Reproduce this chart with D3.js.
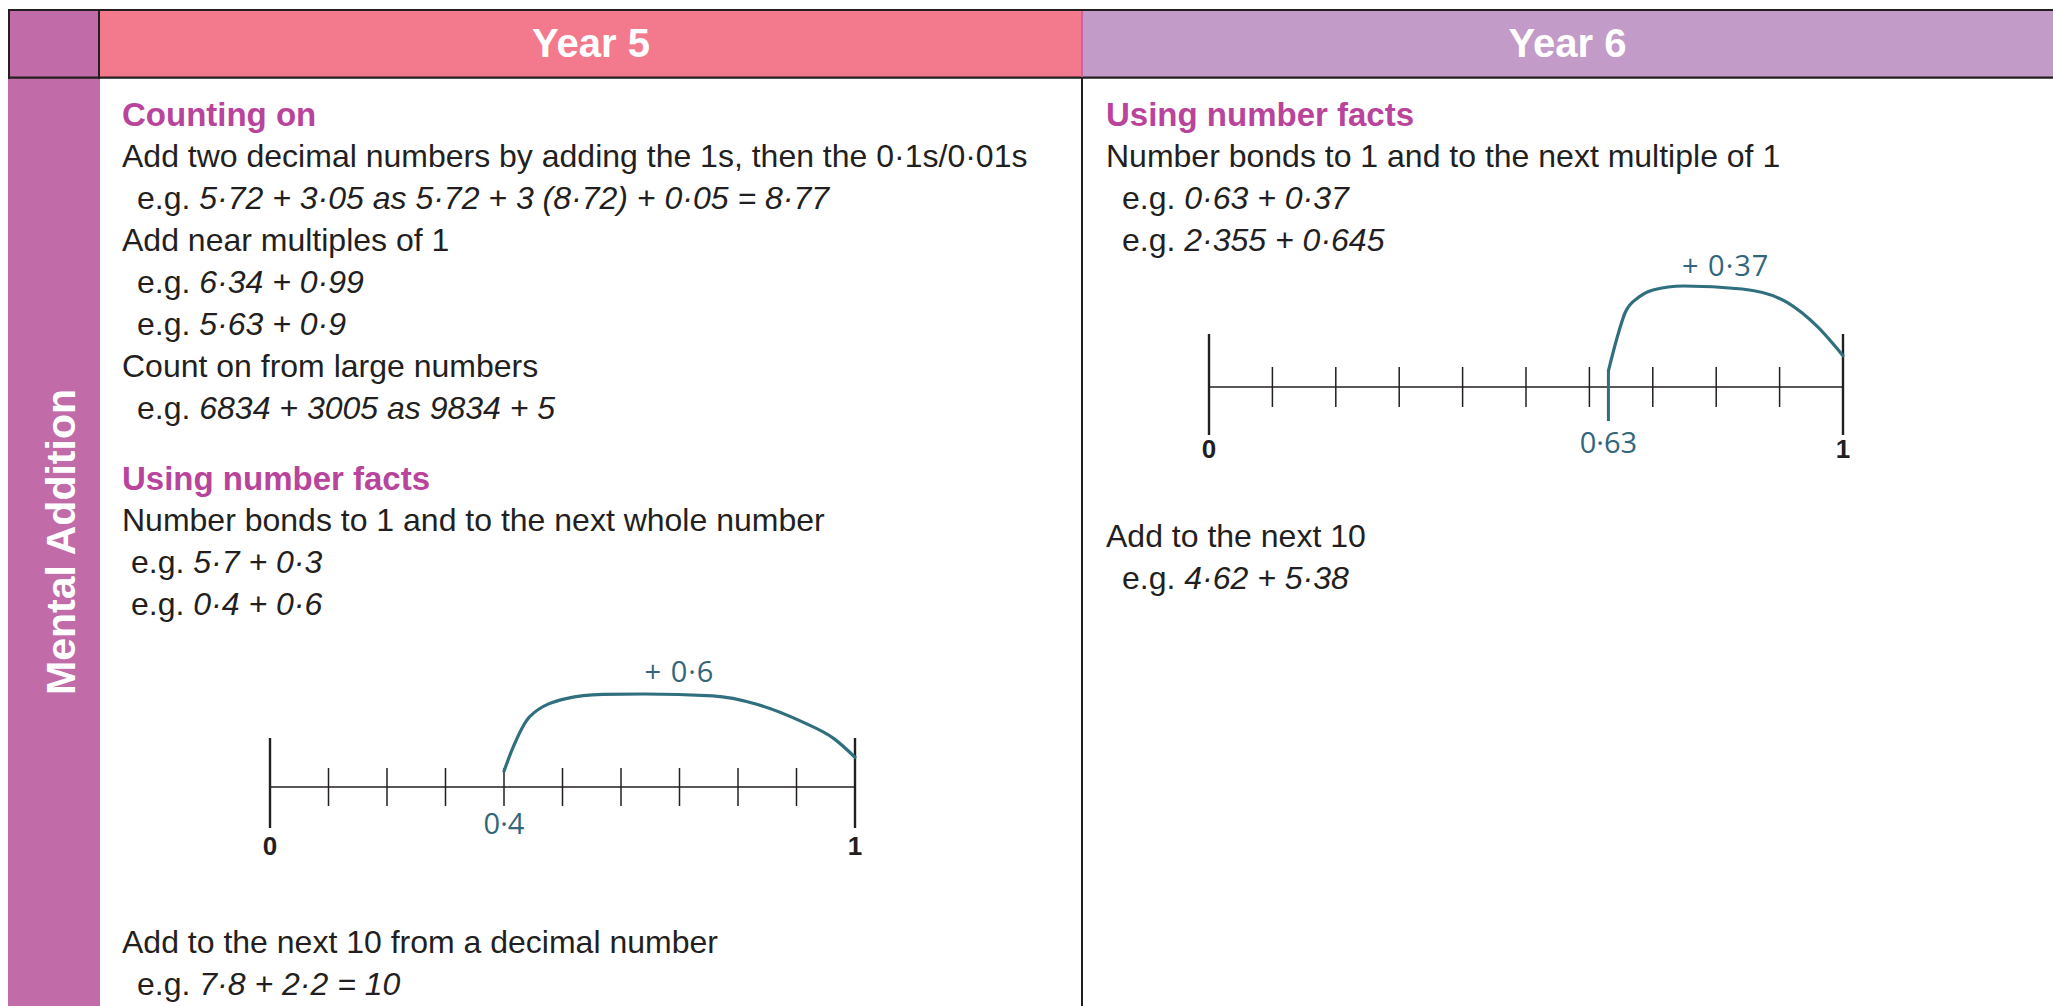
<!DOCTYPE html>
<html>
<head>
<meta charset="utf-8">
<script src="https://cdn.jsdelivr.net/npm/d3@7"></script>
<style>
  body { margin: 0; background: #fff; }
  svg { display: block; }
</style>
</head>
<body>
<svg id="sheet" width="2053" height="1006"></svg>
<script>
// content of the sheet
const columns = ['Year 5', 'Year 6']
const rowTitle = 'Mental Addition'

// h = heading, t = plain line, e = "e.g." line with italic sum, n = number line
const year5Items = [
  ['h', 'Counting on'],
  ['t', 'Add two decimal numbers by adding the 1s, then the 0·1s/0·01s'],
  ['e', '5·72 + 3·05 as 5·72 + 3 (8·72) + 0·05 = 8·77'],
  ['t', 'Add near multiples of 1'],
  ['e', '6·34 + 0·99'],
  ['e', '5·63 + 0·9'],
  ['t', 'Count on from large numbers'],
  ['e', '6834 + 3005 as 9834 + 5'],
  ['h', 'Using number facts'],
  ['t', 'Number bonds to 1 and to the next whole number'],
  ['e', '5·7 + 0·3'],
  ['e', '0·4 + 0·6'],
  ['n', 0],
  ['t', 'Add to the next 10 from a decimal number'],
  ['e', '7·8 + 2·2 = 10']
]

const year6Items = [
  ['h', 'Using number facts'],
  ['t', 'Number bonds to 1 and to the next multiple of 1'],
  ['e', '0·63 + 0·37'],
  ['e', '2·355 + 0·645'],
  ['n', 1],
  ['t', 'Add to the next 10'],
  ['e', '4·62 + 5·38']
]

// number lines: jump from -> to, labels, and the hand drawn arc (t along jump, relative height)
const lineEnds = ['0', '1']
const jumpFrom = [0.4, 0.63]
const jumpTo = [1, 1]
const fromLabels = ['0·4', '0·63']
const jumpLabels = ['+ 0·6', '+ 0·37']
const arcT = [
  [0, 0.024, 0.074, 0.177, 0.28, 0.40, 0.595, 0.72, 0.85, 0.94, 1],
  [0, 0.036, 0.072, 0.13, 0.19, 0.32, 0.57, 0.76, 0.89, 1]
]
const arcH = [
  [0.17, 0.41, 0.76, 0.95, 0.995, 1, 0.98, 0.89, 0.70, 0.52, 0.32],
  [0.16, 0.48, 0.74, 0.89, 0.96, 1, 0.97, 0.84, 0.60, 0.31]
]

// layout
const W = 2053, H = 1006
const topY = 10, headBottom = 78
const leftX = 8, colEdges = [100, 1082, W]
const headColors = ['#f27a8c', '#c39bc9']
const purple = '#c16ba8'
const ink = '#231f20'
const magenta = '#b8449b'
const teal = '#2f6f7e'
const tealText = '#33667a'
const sans = '"Liberation Sans", Arial, Helvetica, sans-serif'
const hand = '"Open Sans", "DejaVu Sans", sans-serif'

const colLayout = [
  { textX: 122, indents: [15, 9, 15], firstY: 114, lineGap: 42, headGap: 70,
    nl: { x0: 270, x1: 855, before: 183, after: 155, arc: 93, big: [49, 41], small: 19,
          fromDy: 37, endDy: 59, jumpDy: -115, markerDrop: 0 } },
  { textX: 1106, indents: [16, 16], firstY: 114, lineGap: 42, headGap: 70,
    nl: { x0: 1209, x1: 1843, before: 147, after: 149, arc: 101, big: [53, 48], small: 20,
          fromDy: 56, endDy: 62, jumpDy: -121, markerDrop: 34 } }
]

const svg = d3.select('#sheet')

// backgrounds
svg.append('rect').attr('x', leftX).attr('y', topY).attr('width', colEdges[0] - leftX)
  .attr('height', H - topY).attr('fill', purple)
columns.forEach((c, i) => {
  svg.append('rect').attr('x', colEdges[i]).attr('y', topY)
    .attr('width', colEdges[i + 1] - colEdges[i]).attr('height', headBottom - topY)
    .attr('fill', headColors[i])
  svg.append('text')
    .attr('x', (colEdges[i] + colEdges[i + 1]) / 2).attr('y', 57)
    .attr('text-anchor', 'middle')
    .attr('font-family', sans).attr('font-weight', 'bold').attr('font-size', 40)
    .attr('fill', '#fff')
    .text(c)
})

// grid lines
const rule = (x1, y1, x2, y2, w, col) => svg.append('line')
  .attr('x1', x1).attr('y1', y1).attr('x2', x2).attr('y2', y2)
  .attr('stroke', col || ink).attr('stroke-width', w)
rule(leftX, topY, W, topY, 2.2)
rule(leftX, headBottom - 0.3, W, headBottom - 0.3, 2.2)
rule(leftX + 1, topY, leftX + 1, headBottom + 1, 2)
rule(colEdges[0] - 1, topY, colEdges[0] - 1, headBottom + 1, 2)
rule(colEdges[1], topY + 1, colEdges[1], headBottom - 1, 2, '#c962a6')
rule(colEdges[1], headBottom, colEdges[1], H, 2)

// row title
svg.append('text')
  .attr('transform', 'translate(60,542) rotate(-90)')
  .attr('text-anchor', 'middle').attr('dy', '0.36em')
  .attr('font-family', sans).attr('font-weight', 'bold').attr('font-size', 41)
  .attr('fill', '#fff')
  .text(rowTitle)

function drawNumberLine(g, k, L, axisY) {
  const x = d3.scaleLinear().domain([0, 1]).range([L.x0, L.x1])
  const h = d3.scaleLinear().domain([0, 1]).range([0, L.arc])

  g.append('line').attr('x1', x(0)).attr('x2', x(1)).attr('y1', axisY).attr('y2', axisY)
    .attr('stroke', ink).attr('stroke-width', 1.6)

  const ticks = x.ticks(10)
  const isEnd = i => i === 0 || i === ticks.length - 1
  g.selectAll(null).data(ticks).enter().append('line')
    .attr('x1', d => x(d)).attr('x2', d => x(d))
    .attr('y1', (d, i) => axisY - (isEnd(i) ? L.big[0] : L.small))
    .attr('y2', (d, i) => axisY + (isEnd(i) ? L.big[1] : L.small))
    .attr('stroke', ink)
    .attr('stroke-width', (d, i) => (isEnd(i) ? 2.4 : 1.5))

  // teal marker where the jump starts (only when it is not on a tenth)
  if (L.markerDrop) {
    g.append('line').attr('x1', x(jumpFrom[k])).attr('x2', x(jumpFrom[k]))
      .attr('y1', axisY - h(arcH[k][0])).attr('y2', axisY + L.markerDrop)
      .attr('stroke', teal).attr('stroke-width', 3)
  }

  const pts = arcT[k].map((t, i) => [x(jumpFrom[k] + t * (jumpTo[k] - jumpFrom[k])), axisY - h(arcH[k][i])])
  g.append('path')
    .attr('d', d3.line().curve(d3.curveMonotoneX)(pts))
    .attr('fill', 'none').attr('stroke', teal).attr('stroke-width', 3.2).attr('stroke-linecap', 'round')

  g.selectAll(null).data(lineEnds).enter().append('text')
    .attr('x', (d, i) => x(i)).attr('y', axisY + L.endDy).attr('dy', '0.35em')
    .attr('text-anchor', 'middle')
    .attr('font-family', sans).attr('font-weight', 'bold').attr('font-size', 26)
    .attr('fill', ink).text(d => d)

  g.append('text')
    .attr('x', x(jumpFrom[k])).attr('y', axisY + L.fromDy).attr('dy', '0.35em')
    .attr('text-anchor', 'middle')
    .attr('font-family', hand).attr('font-size', 29)
    .attr('fill', tealText).text(fromLabels[k])

  g.append('text')
    .attr('x', x((jumpFrom[k] + jumpTo[k]) / 2)).attr('y', axisY + L.jumpDy).attr('dy', '0.35em')
    .attr('text-anchor', 'middle')
    .attr('font-family', hand).attr('font-size', 29)
    .attr('letter-spacing', 1).attr('fill', tealText).text(jumpLabels[k])
}

function drawColumn(items, L) {
  const g = svg.append('g')
  let y = L.firstY
  let section = 0
  items.forEach(([kind, val], i) => {
    if (i > 0) {
      if (kind === 'h') { y += L.headGap; section++ }
      else if (items[i - 1][0] !== 'n' && kind !== 'n') y += L.lineGap
    }
    if (kind === 'n') {
      drawNumberLine(g, val, L.nl, y + L.nl.before)
      y += L.nl.before + L.nl.after
      section++
      return
    }
    const t = g.append('text')
      .attr('y', y).attr('dy', '0.35em')
      .attr('font-family', sans).attr('fill', ink)
    if (kind === 'h') {
      t.attr('x', L.textX).attr('font-size', 33).attr('font-weight', 'bold')
        .attr('fill', magenta).text(val)
    } else if (kind === 't') {
      t.attr('x', L.textX).attr('font-size', 32).text(val)
    } else {
      t.attr('x', L.textX + L.indents[section]).attr('font-size', 32)
      t.append('tspan').text('e.g. ')
      t.append('tspan').attr('font-style', 'italic').text(val)
    }
  })
}

drawColumn(year5Items, colLayout[0])
drawColumn(year6Items, colLayout[1])
</script>
</body>
</html>
